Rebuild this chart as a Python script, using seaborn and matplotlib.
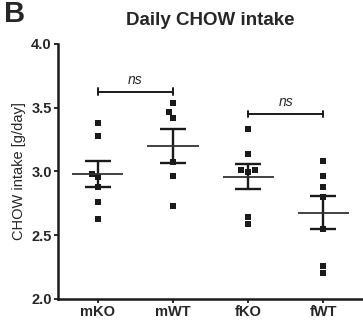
import numpy as np
import pandas as pd
import matplotlib
matplotlib.use("Agg")
import matplotlib.pyplot as plt
import seaborn as sns

groups = ["mKO", "mWT", "fKO", "fWT"]
mKO = [3.38, 3.28, 2.98, 2.955, 2.88, 2.76, 2.63]
mWT = [3.535, 3.465, 3.42, 3.07, 2.96, 2.73]
fKO = [3.335, 3.14, 3.01, 3.01, 2.995, 2.64, 2.585]
fWT = [3.08, 2.96, 2.875, 2.80, 2.545, 2.26, 2.205]
values = [mKO, mWT, fKO, fWT]
brackets = [("mKO", "mWT", 3.625, "ns"), ("fKO", "fWT", 3.45, "ns")]

df = pd.DataFrame({"group": np.repeat(groups, [len(v) for v in values]),
                   "intake": np.concatenate(values)})

sns.set_style("ticks")
plt.rcParams["font.family"] = ["Liberation Sans", "DejaVu Sans"]

fig = plt.figure(figsize=(3.63, 3.2), dpi=100)
ax = fig.add_axes([0.16, 0.066, 0.84, 0.797])

sns.swarmplot(data=df, x="group", y="intake", order=groups, marker="s",
              color="#1a1a1a", size=4.8, linewidth=0, ax=ax, zorder=3)

means = [np.mean(v) for v in values]
sems = [np.std(v, ddof=1) / np.sqrt(len(v)) for v in values]
xs = np.arange(len(groups))
ax.errorbar(xs, means, yerr=sems, fmt="none", ecolor="#1a1a1a",
            elinewidth=1.7, capsize=9.5, capthick=1.7, zorder=4)
ax.hlines(means, xs - 0.34, xs + 0.34, color="#333333", lw=1.3, zorder=4)

for a, b, y, txt in brackets:
    xa, xb = groups.index(a), groups.index(b)
    ax.plot([xa, xb], [y, y], color="#1a1a1a", lw=1.4)
    ax.plot([xa, xa], [y - 0.025, y + 0.025], color="#1a1a1a", lw=1.4)
    ax.plot([xb, xb], [y - 0.025, y + 0.025], color="#1a1a1a", lw=1.4)
    ax.text((xa + xb) / 2, y + 0.04, txt, style="italic", ha="center",
            va="bottom", fontsize=10)

ax.set_ylim(2.0, 4.0)
ax.set_xlim(-0.53, 3.53)
ax.set_yticks([2.0, 2.5, 3.0, 3.5, 4.0])
ax.set_yticklabels(["2.0", "2.5", "3.0", "3.5", "4.0"], fontweight="bold", fontsize=10.5)
ax.set_xticks(xs)
ax.set_xticklabels(groups, fontweight="bold", fontsize=10.5)
ax.set_xlabel("")
ax.set_ylabel("CHOW intake [g/day]", fontsize=10.5, labelpad=4)
ax.tick_params(axis="both", length=3, width=1.3, color="#1a1a1a", pad=1.5)
for s in ["top", "right"]:
    ax.spines[s].set_visible(False)
for s in ["left", "bottom"]:
    ax.spines[s].set_linewidth(1.8)
    ax.spines[s].set_color("#1a1a1a")

fig.text(0.578, 0.935, "Daily CHOW intake", fontweight="bold", fontsize=13.5,
         ha="center", va="center")
fig.text(0.012, 0.955, "B", fontweight="bold", fontsize=21, ha="left", va="center")

fig.savefig("out.png", dpi=100)
